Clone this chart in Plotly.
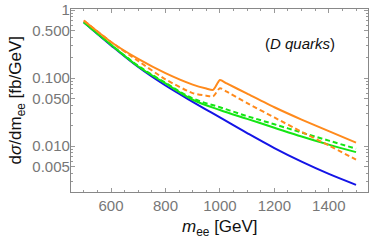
import plotly.graph_objects as go

# masses (GeV)
m_smooth = [500, 600, 700, 800, 900, 1000, 1100, 1200, 1300, 1400, 1500]
m_res = [500, 600, 700, 800, 900, 950, 975, 1000, 1025, 1100, 1200, 1300, 1400, 1500]

# d sigma / d m_ee  [fb/GeV]
blue_sm = [0.661, 0.302, 0.145, 0.0776, 0.0447, 0.0263, 0.0155, 0.00933, 0.00589, 0.00389, 0.00269]
green_solid = [0.661, 0.309, 0.148, 0.0832, 0.0479, 0.0339, 0.0251, 0.0186, 0.0138, 0.0105, 0.00813]
green_dashed = [0.661, 0.309, 0.151, 0.0851, 0.0501, 0.0372, 0.0275, 0.0209, 0.0158, 0.0120, 0.00912]
orange_solid = [0.700, 0.339, 0.191, 0.118, 0.0800, 0.0700, 0.0668, 0.0933, 0.0832, 0.0589, 0.0372, 0.0245, 0.0166, 0.0112]
orange_dashed = [0.700, 0.339, 0.178, 0.0955, 0.0600, 0.0550, 0.0537, 0.0708, 0.0631, 0.0427, 0.0263, 0.0162, 0.0102, 0.00631]

y_tickvals = [1, 0.5, 0.1, 0.05, 0.01, 0.005]
y_ticktext = ["1", "0.500", "0.100", "0.050", "0.010", "0.005"]
y_minor = [0.002, 0.003, 0.004, 0.006, 0.007, 0.008, 0.009, 0.02, 0.03, 0.04, 0.06, 0.07, 0.08, 0.09,
           0.2, 0.3, 0.4, 0.6, 0.7, 0.8, 0.9]
x_tickvals = [600, 800, 1000, 1200, 1400]

ORANGE = "#FF8A1C"
GREEN = "#14E614"
BLUE = "#1414E6"
DASH = "5px,3px"
FONT = "Liberation Sans, Arial, sans-serif"

fig = go.Figure()
fig.add_trace(go.Scatter(x=m_smooth, y=blue_sm, mode="lines", line=dict(color=BLUE, width=2, shape="spline")))
fig.add_trace(go.Scatter(x=m_smooth, y=green_solid, mode="lines", line=dict(color=GREEN, width=2, shape="spline")))
fig.add_trace(go.Scatter(x=m_smooth, y=green_dashed, mode="lines", line=dict(color=GREEN, width=2, dash=DASH, shape="spline")))
fig.add_trace(go.Scatter(x=m_res, y=orange_solid, mode="lines", line=dict(color=ORANGE, width=2, shape="spline", smoothing=0.6)))
fig.add_trace(go.Scatter(x=m_res, y=orange_dashed, mode="lines", line=dict(color=ORANGE, width=2, dash=DASH, shape="spline", smoothing=0.6)))

fig.add_annotation(text="(<i>D quarks</i>)", xref="paper", yref="paper", x=0.77, y=0.814,
                   showarrow=False, xanchor="center", yanchor="middle",
                   font=dict(family=FONT, size=15, color="#111111"))
fig.add_annotation(text="d<i>σ</i>/dm<sub>ee</sub> [fb/GeV]", xref="paper", yref="paper",
                   x=-0.182, y=0.5, textangle=-90, showarrow=False,
                   xanchor="center", yanchor="middle",
                   font=dict(family=FONT, size=17, color="#111111"))
fig.add_annotation(text="<i>m</i><sub>ee</sub> [GeV]", xref="paper", yref="paper",
                   x=0.502, y=-0.197, showarrow=False,
                   xanchor="center", yanchor="middle",
                   font=dict(family=FONT, size=17, color="#111111"))

axis_common = dict(showline=True, linecolor="#888888", linewidth=1.2, mirror="allticks",
                   ticks="inside", tickcolor="#999999", ticklen=4, showgrid=False, zeroline=False,
                   automargin=False,
                   tickfont=dict(family=FONT, size=15, color="#777777"))

fig.update_layout(
    width=374, height=243,
    margin=dict(l=71, r=6, t=9, b=51),
    paper_bgcolor="white", plot_bgcolor="white",
    showlegend=False,
    xaxis=dict(range=[453, 1544], tickvals=x_tickvals,
               minor=dict(dtick=50, ticks="inside", ticklen=2, tickcolor="#999999"),
               **axis_common),
    yaxis=dict(type="log", range=[-2.676, 0.015], tickvals=y_tickvals, ticktext=y_ticktext,
               ticklabelstandoff=-3,
               minor=dict(tickvals=y_minor, ticks="inside", ticklen=2, tickcolor="#999999"),
               **axis_common),
)

fig.write_html("out.html", config={"displayModeBar": False},
               post_script="document.body.style.margin='0';")
